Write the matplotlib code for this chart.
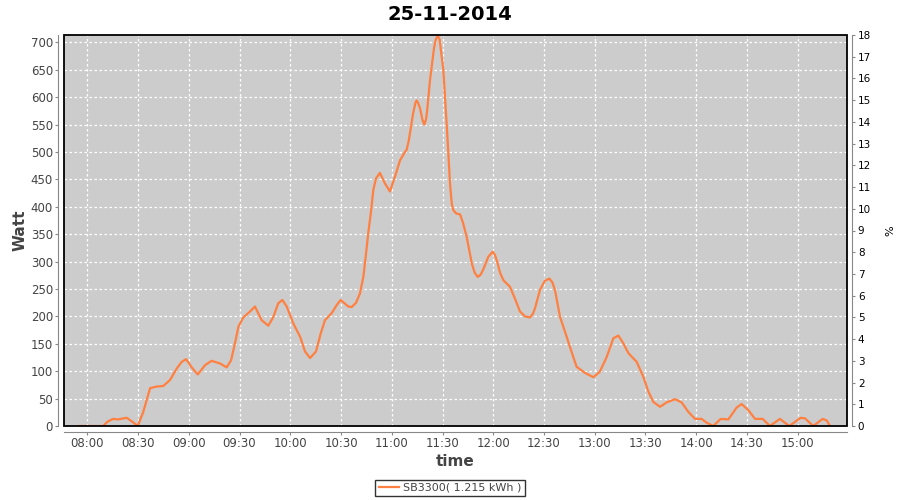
import matplotlib
matplotlib.use("Agg")
import matplotlib.pyplot as plt
from matplotlib.patches import Rectangle

# minutes after 08:00 and power (W)
minutes = [-5, 0, 6.5, 9.3, 12, 15.2, 18, 23.3, 26.5, 29.8, 33, 37.1, 41, 44.9, 48.9,
           52.9, 55.8, 58.4, 61.7, 65.3, 69.6, 73.5, 78.5, 82.4, 85, 87.3, 89.3, 92.2,
           96.2, 99.1, 103.1, 107, 110, 112.9, 115.3, 117.9, 121.8, 125.8, 128.7, 131.7,
           135.2, 138, 140.5, 144.5, 147.5, 149.8, 154.3, 156.3, 158.9, 161.2, 163.2,
           164.8, 166.1, 167.6, 169.1, 170.7, 173, 175.9, 178.9, 181.9, 184.9, 187.8,
           188.8, 190, 190.8, 192.6, 194, 194.7, 195.5, 196.7, 198.2, 199.3, 200.3,
           200.9, 202.6, 205, 206, 207.2, 208.3, 210.5, 212.9, 214.5, 215.5, 216.4,
           218, 220.4, 222.2, 224.3, 227.3, 229, 230.8, 232.5, 234, 237.1, 239.7,
           241, 242.3, 244, 246, 249.9, 252.9, 255.8, 258.8, 261.7, 263.5, 264.7,
           267.6, 270.5, 273.2, 275, 276.5, 279.5, 283.4, 287.3, 289.3, 294.2, 299.2,
           303, 307.1, 311, 314, 316.9, 319.9, 324.8, 328.7, 331.7, 334.6, 338.6,
           342.5, 347.5, 351.4, 355.3, 359.3, 363.2, 366.2, 370.1, 374.5, 379, 384,
           386.9, 390.8, 394.8, 399.3, 403.6, 409.5, 415, 421.8, 424.3, 429.2, 434.8,
           437.2, 439.1]
watt = [0, 0, 0, 0, 8, 13, 12, 15, 8, 0, 25, 69, 72, 73, 84,
        105, 117, 122, 107, 94, 111, 119, 114, 107, 120, 151, 181, 198,
        209, 218, 193, 183, 199, 224, 230, 218, 187, 163, 136, 124,
        136, 169, 193, 206, 221, 230, 218, 217, 225, 242, 272,
        315, 352, 388, 431, 452, 462, 443, 428, 455, 485, 500,
        504, 520, 535, 570, 590, 594, 590, 580, 558, 550, 560,
        575, 631, 690, 705, 713, 705, 650, 528, 440, 405, 394,
        388, 386, 370, 345, 297, 280, 272, 276, 285, 309, 318,
        312, 300, 280, 266, 254, 232, 209, 200, 198, 205, 215,
        248, 265, 269, 262, 248, 199, 163, 126, 108, 97, 89,
        99, 126, 160, 165, 151, 133, 117, 90, 63, 44, 35,
        43, 49, 43, 26, 13, 13, 6, 0, 13, 12, 34,
        40, 29, 13, 13, 0, 13, 0, 15, 14, 0, 13,
        10, 0]

tick_minutes = [0, 30, 60, 90, 120, 150, 180, 210, 240, 270, 300, 330, 360, 390, 420]
tick_labels = ["08:00", "08:30", "09:00", "09:30", "10:00", "10:30", "11:00", "11:30",
               "12:00", "12:30", "13:00", "13:30", "14:00", "14:30", "15:00"]
watt_ticks = list(range(0, 701, 50))
pct_ticks = list(range(0, 19))

line_color = "#FF8040"
axis_gray = "#888888"
label_gray = "#444444"

fig = plt.figure(figsize=(9, 5), dpi=100)
ax = fig.add_axes([0.0711, 0.148, 0.8697, 0.782])
ax.set_facecolor("#CCCCCC")

ax.plot(minutes, watt, color=line_color, lw=1.6, label="SB3300( 1.215 kWh )", zorder=3)
ax.set_xlim(-13.8, 449)
ax.set_ylim(0, 713.5)
ax.set_xticks(tick_minutes)
ax.set_xticklabels(tick_labels)
ax.set_yticks(watt_ticks)
ax.grid(True, color="white", linestyle=(0, (2, 2)), lw=0.9)
ax.set_axisbelow(True)

for s in ["top", "right"]:
    ax.spines[s].set_visible(False)
for s in ["left", "bottom"]:
    ax.spines[s].set_position(("outward", 4))
    ax.spines[s].set_color(axis_gray)
ax.tick_params(colors=axis_gray, labelcolor=label_gray, labelsize=8.5, length=2, pad=2)

ax2 = ax.twinx()
ax2.set_ylim(0, 18)
ax2.set_yticks(pct_ticks)
for s in ["top", "left", "bottom"]:
    ax2.spines[s].set_visible(False)
ax2.spines["right"].set_position(("outward", 4))
ax2.spines["right"].set_color(axis_gray)
ax2.tick_params(colors=axis_gray, labelcolor="black", labelsize=7.5, length=2, pad=2)

# plot outline
ax.add_patch(Rectangle((0, 0), 1, 1, transform=ax.transAxes, fill=False,
                       edgecolor="black", lw=1.3, zorder=5, clip_on=False))

ax.set_xlabel("time", fontsize=11, fontweight="bold", color=label_gray, labelpad=3)
ax.set_ylabel("Watt", fontsize=11, fontweight="bold", color=label_gray, labelpad=2)
ax2.set_ylabel("%", fontsize=8, color="black", labelpad=10)

fig.text(0.5, 0.972, "25-11-2014", ha="center", va="center", fontsize=14, fontweight="bold")

leg = fig.legend(loc="center", bbox_to_anchor=(0.5, 0.024), fontsize=8, frameon=True,
                 fancybox=False, handlelength=1.8, handletextpad=0.4, borderpad=0.3,
                 borderaxespad=0)
leg.get_frame().set_edgecolor("black")
leg.get_frame().set_linewidth(1)
for t in leg.get_texts():
    t.set_color(label_gray)

fig.savefig("out.png", dpi=100)
